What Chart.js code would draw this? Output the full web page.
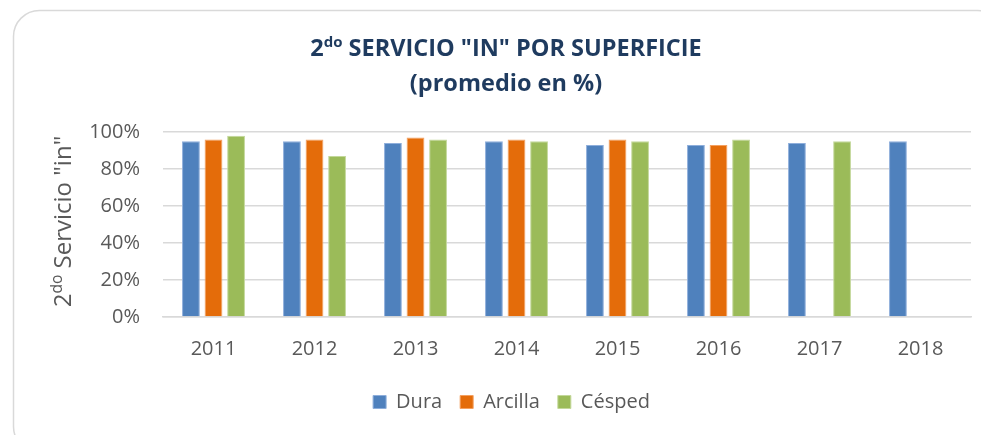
<!DOCTYPE html>
<html>
<head>
<meta charset="utf-8">
<script src="https://cdn.jsdelivr.net/npm/chart.js@4.4.1/dist/chart.umd.min.js"></script>
<style>
  html, body { margin: 0; padding: 0; background: #ffffff; }
  #wrap { width: 981px; height: 435px; position: relative; }
</style>
</head>
<body>
<div id="wrap"><canvas id="c" width="981" height="435"></canvas></div>
<script>
const categories = ['2011', '2012', '2013', '2014', '2015', '2016', '2017', '2018'];
const dura    = [95, 95, 94, 95, 93, 93, 94, 95];
const arcilla = [96, 96, 97, 96, 96, 93, null, null];
const cesped  = [98, 87, 96, 95, 95, 96, 95, null];
const seriesNames = ['Dura', 'Arcilla', 'Césped'];
const yTicks = [0, 20, 40, 60, 80, 100];
const titleMain = '2';
const titleSup = 'do';
const titleRest = ' SERVICIO "IN" POR SUPERFICIE';
const titleLine2 = '(promedio en %)';
const yTitleMain = '2';
const yTitleSup = 'do';
const yTitleRest = ' Servicio "in"';

const FONT = "'Open Sans', 'DejaVu Sans', sans-serif";
const GRAY = '#595959';
const GRID = '#d9d9d9';

const framePlugin = {
  id: 'frame',
  beforeDraw(chart) {
    const ctx = chart.ctx;
    ctx.save();
    ctx.fillStyle = '#ffffff';
    ctx.fillRect(0, 0, chart.width, chart.height);
    ctx.strokeStyle = GRID;
    ctx.lineWidth = 1.5;
    ctx.beginPath();
    ctx.roundRect(13.5, 10.5, 990, 442, 26);
    ctx.stroke();
    ctx.restore();
  },
  afterDraw(chart) {
    const ctx = chart.ctx;
    ctx.save();
    // Title
    ctx.fillStyle = '#1f3b5f';
    ctx.textBaseline = 'alphabetic';
    const big = "bold 23.5px " + FONT;
    const small = "bold 15px " + FONT;
    ctx.font = big;
    const w1 = ctx.measureText(titleMain).width;
    const w3 = ctx.measureText(titleRest).width;
    ctx.font = small;
    const w2 = ctx.measureText(titleSup).width;
    const total = w1 + w2 + w3;
    const cx = 506;
    let x = cx - total / 2;
    const y1 = 56;
    ctx.textAlign = 'left';
    ctx.font = big;
    ctx.fillText(titleMain, x, y1); x += w1;
    ctx.font = small;
    ctx.fillText(titleSup, x, y1 - 9); x += w2;
    ctx.font = big;
    ctx.fillText(titleRest, x, y1);
    ctx.textAlign = 'center';
    ctx.fillText(titleLine2, cx, 91);

    // Y axis title (rotated)
    ctx.fillStyle = GRAY;
    const ybig = "24px " + FONT;
    const ysmall = "15.5px " + FONT;
    ctx.font = ybig;
    const a1 = ctx.measureText(yTitleMain).width;
    const a3 = ctx.measureText(yTitleRest).width;
    ctx.font = ysmall;
    const a2 = ctx.measureText(yTitleSup).width;
    const tot = a1 + a2 + a3;
    const ca = chart.chartArea;
    const cy = (ca.top + ca.bottom) / 2 - 3;
    ctx.translate(71, cy);
    ctx.rotate(-Math.PI / 2);
    ctx.textAlign = 'left';
    let px = -tot / 2;
    ctx.font = ybig;
    ctx.fillText(yTitleMain, px, 0); px += a1;
    ctx.font = ysmall;
    ctx.fillText(yTitleSup, px, -9); px += a2;
    ctx.font = ybig;
    ctx.fillText(yTitleRest, px, 0);
    ctx.restore();
  }
};

const colors = ['#4f81bd', '#e46c0a', '#9bbb59'];
const borders = ['#8eaedb', '#f4a060', '#c3d89a'];

new Chart(document.getElementById('c'), {
  type: 'bar',
  data: {
    labels: categories,
    datasets: [dura, arcilla, cesped].map((d, i) => ({
      label: seriesNames[i],
      data: d,
      backgroundColor: colors[i],
      borderColor: borders[i],
      borderWidth: 1,
      categoryPercentage: 0.67,
      barPercentage: 0.79
    }))
  },
  options: {
    responsive: false,
    animation: false,
    devicePixelRatio: 1,
    layout: { padding: { left: 52, right: 10, top: 132, bottom: 13 } },
    plugins: {
      title: { display: false },
      tooltip: { enabled: false },
      legend: {
        position: 'bottom',
        labels: {
          boxWidth: 13,
          boxHeight: 13,
          padding: 18,
          color: GRAY,
          font: { family: FONT, size: 20 }
        }
      }
    },
    scales: {
      x: {
        grid: { display: false },
        border: { display: true, color: GRID, width: 1.5 },
        ticks: { color: GRAY, font: { family: FONT, size: 20 }, padding: 12 },
        afterFit(scale) { scale.height = 57; }
      },
      y: {
        min: 0, max: 100,
        afterBuildTicks(scale) { scale.ticks = yTicks.map(v => ({ value: v })); },
        grid: { color: GRID, lineWidth: 1.5, drawTicks: false },
        border: { display: false },
        ticks: {
          color: GRAY,
          font: { family: FONT, size: 20 },
          padding: 23,
          callback: v => v + '%'
        },
        afterFit(scale) { scale.width = 111; }
      }
    }
  },
  plugins: [framePlugin]
});
</script>
</body>
</html>
